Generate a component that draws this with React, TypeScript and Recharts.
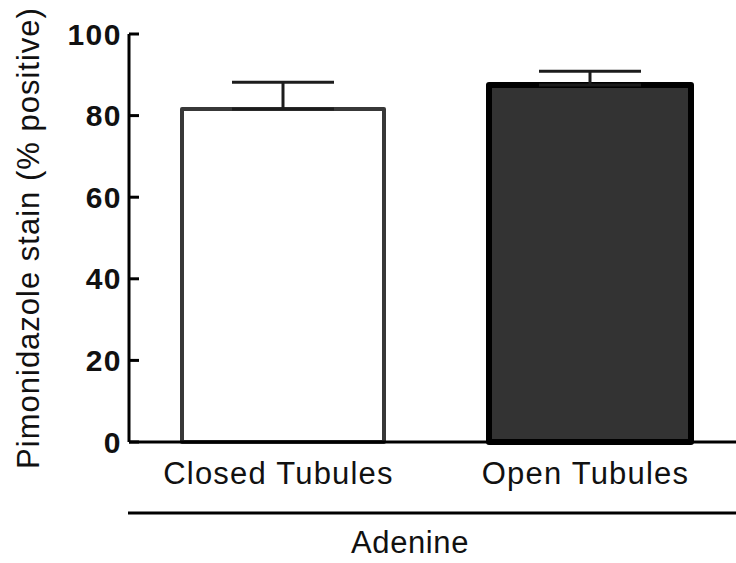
import { BarChart, Bar, XAxis, YAxis, ErrorBar, Cell } from 'recharts';

const categories = ['Closed Tubules', 'Open Tubules'];
const means = [81.6, 87.5];
const sem = [6.6, 3.4];
const yTicks = [0, 20, 40, 60, 80, 100];

const fills = ['#ffffff', '#333333'];
const strokes = ['#383838', '#000000'];
const strokeWidths = [4, 6];

const data = categories.map((name, i) => ({
  name,
  value: means[i],
  err: [0, sem[i]],
}));

const FONT = "Arial, 'Liberation Sans', Helvetica, sans-serif";

function CategoryTick(props: any) {
  const { x, y, payload } = props;
  return (
    <text x={x - 4} y={y + 40} textAnchor="middle" fontFamily={FONT} fontSize={31} letterSpacing={1.2} fill="#111">
      {payload.value}
    </text>
  );
}

function GroupLabel(props: any) {
  const { viewBox } = props;
  const { x, y, width } = viewBox;
  return (
    <g>
      <line x1={x - 1} y1={y + 71} x2={x + width} y2={y + 71} stroke="#000" strokeWidth={3} />
      <text x={410} y={y + 111} textAnchor="middle" fontFamily={FONT} fontSize={31} letterSpacing={0.6} fill="#111">
        Adenine
      </text>
    </g>
  );
}

function YTitle() {
  return (
    <text
      transform="translate(39, 238) rotate(-90)"
      textAnchor="middle"
      fontFamily={FONT}
      fontSize={31}
      letterSpacing={1}
      fill="#111"
    >
      Pimonidazole stain (% positive)
    </text>
  );
}

export default function App() {
  return (
    <div style={{ position: 'fixed', left: 0, top: 0, width: 736, height: 563, overflow: 'hidden', background: '#fff' }}>
      <BarChart width={743} height={563} data={data} margin={{ top: 34, right: 0, bottom: 0, left: 0 }}>
        <XAxis
          dataKey="name"
          height={121}
          axisLine={{ stroke: '#000', strokeWidth: 3 }}
          tickLine={false}
          tickSize={0}
          tick={<CategoryTick />}
          interval={0}
          label={{ content: <GroupLabel /> } as any}
        />
        <YAxis
          width={129}
          domain={[0, 100]}
          ticks={yTicks}
          interval={0}
          axisLine={{ stroke: '#000', strokeWidth: 3 }}
          tickLine={{ stroke: '#000', strokeWidth: 3 }}
          tickSize={-10}
          tickMargin={17}
          tick={{ fill: '#111', fontFamily: FONT, fontSize: 30, fontWeight: 'bold', letterSpacing: 1.5 }}
          label={{ content: <YTitle /> } as any}
        />
        <Bar dataKey="value" barSize={202} isAnimationActive={false} strokeLinejoin="round">
          {data.map((d, i) => (
            <Cell key={d.name} fill={fills[i]} stroke={strokes[i]} strokeWidth={strokeWidths[i]} />
          ))}
          <ErrorBar dataKey="err" width={51} stroke="#1c1c1c" strokeWidth={3} direction="y" isAnimationActive={false} />
        </Bar>
      </BarChart>
    </div>
  );
}
